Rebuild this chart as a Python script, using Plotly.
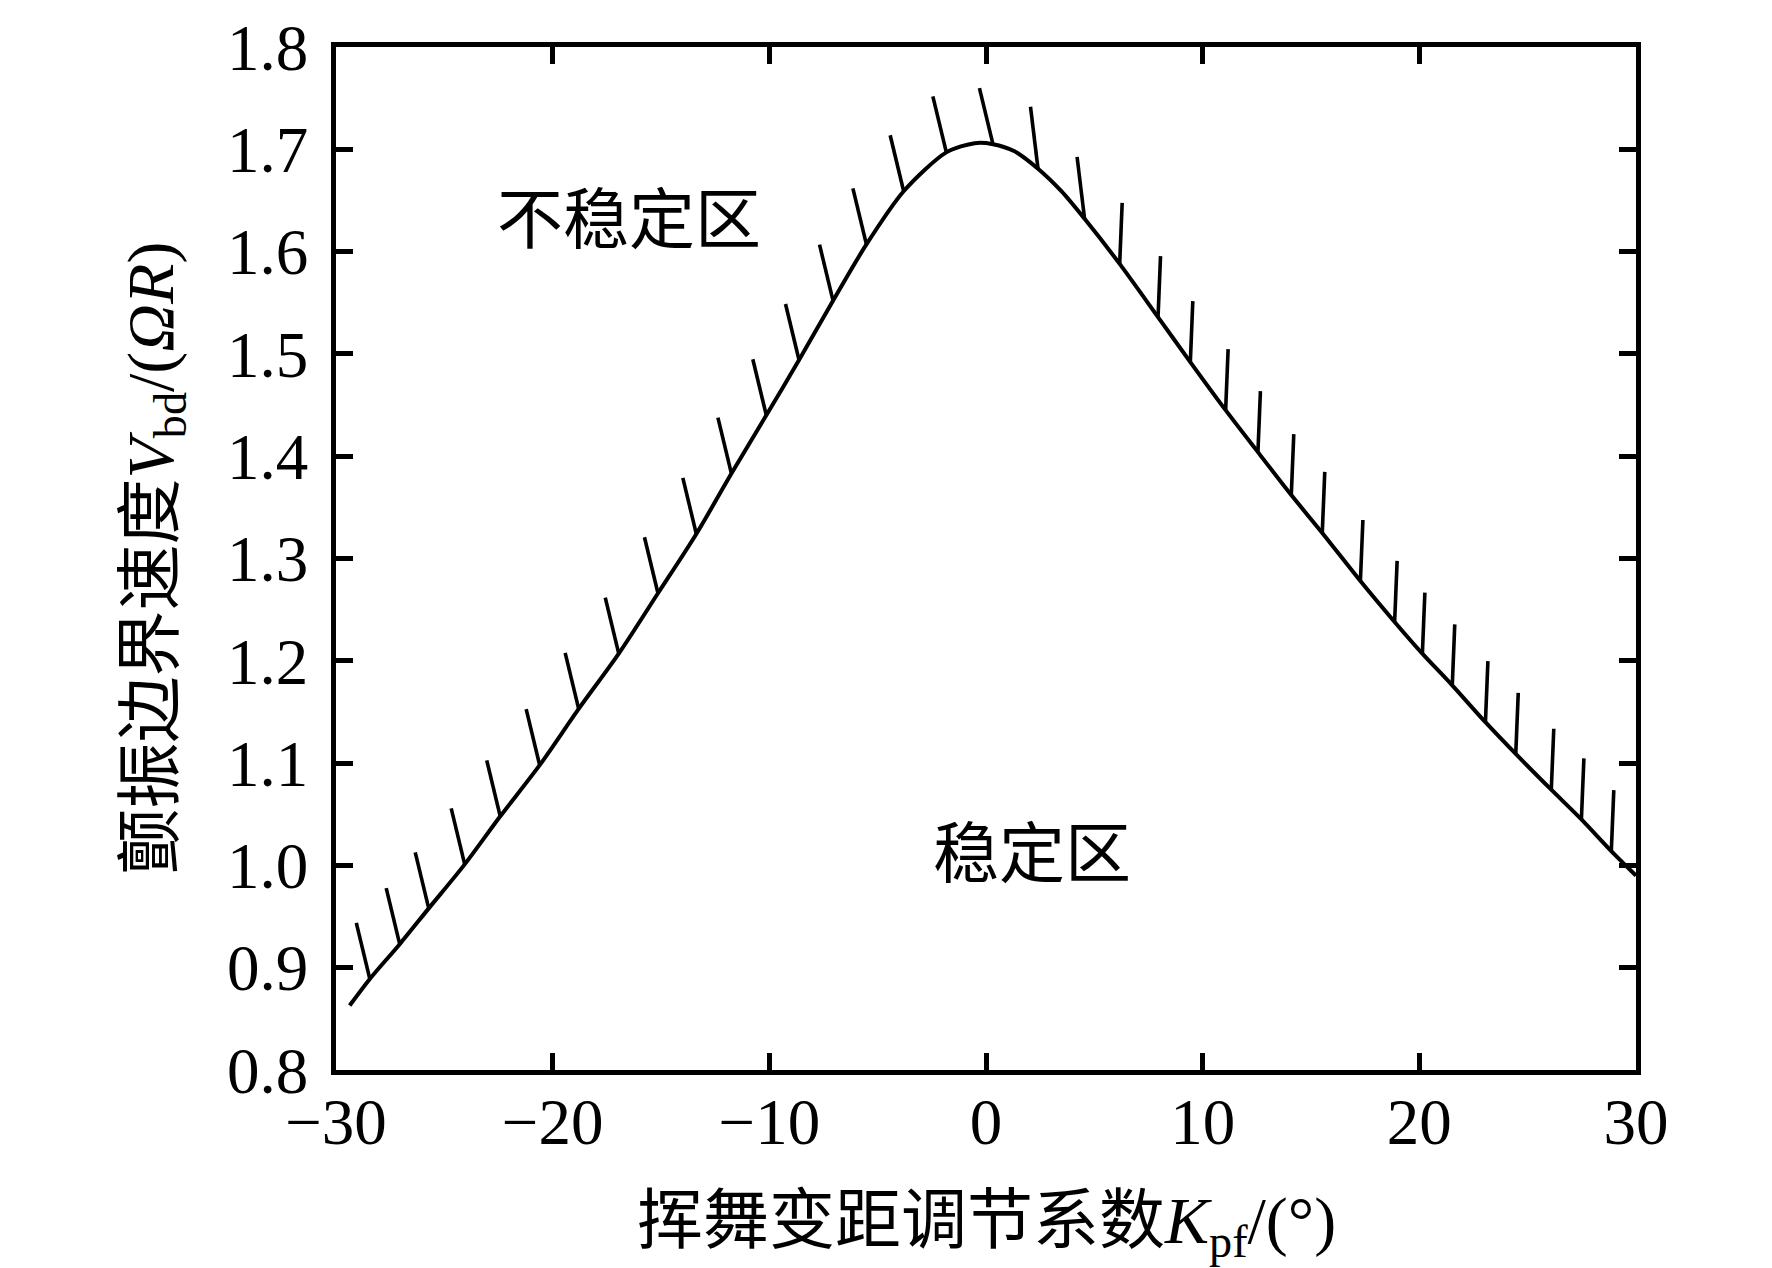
import plotly.graph_objects as go

# 颤振边界曲线 (读图所得)
k_curve = [-29.37, -28.44, -27.06, -25.72, -24.06, -22.42, -20.60, -18.80, -16.95,
           -15.14, -13.37, -11.75, -10.14, -8.63, -7.06, -5.52, -3.80, -1.83, -0.52,
           0.32, 1.32, 2.40, 3.48, 4.55, 6.17, 7.94, 9.43, 11.06, 12.55, 14.09,
           15.52, 17.28, 18.86, 20.14, 21.52, 23.05, 24.45, 26.09, 27.48, 28.86, 30.0]
v_curve = [0.863, 0.889, 0.923, 0.958, 1.001, 1.048, 1.098, 1.153, 1.207,
           1.266, 1.324, 1.383, 1.440, 1.494, 1.552, 1.607, 1.659, 1.697, 1.706,
           1.705, 1.698, 1.681, 1.659, 1.632, 1.588, 1.536, 1.492, 1.445, 1.404, 1.362,
           1.325, 1.278, 1.238, 1.207, 1.176, 1.140, 1.109, 1.074, 1.045, 1.014, 0.990]

# 阴影短线的根部 (位于曲线上)
hatch_k = [-28.44, -27.06, -25.72, -24.06, -22.42, -20.60, -18.80, -16.95, -15.14,
           -13.37, -11.75, -10.14, -8.63, -7.06, -5.52, -3.80, -1.83, 0.32, 2.40, 4.55,
           6.17, 7.94, 9.43, 11.06, 12.55, 14.09, 15.52, 17.28, 18.86, 20.14, 21.52,
           23.05, 24.45, 26.09, 27.48, 28.86]
hatch_v = [0.889, 0.923, 0.958, 1.001, 1.048, 1.098, 1.153, 1.207, 1.266,
           1.324, 1.383, 1.440, 1.494, 1.552, 1.607, 1.659, 1.697, 1.705, 1.681, 1.632,
           1.588, 1.536, 1.492, 1.445, 1.404, 1.362, 1.325, 1.278, 1.238, 1.207, 1.176,
           1.140, 1.109, 1.074, 1.045, 1.014]

x_ticks = [-30, -20, -10, 0, 10, 20, 30]
y_ticks = [0.8, 0.9, 1.0, 1.1, 1.2, 1.3, 1.4, 1.5, 1.6, 1.7, 1.8]

x_range = [-30, 30]
y_range = [0.8, 1.8]

W, H = 1772, 1268
margin = dict(l=328, r=144, t=39, b=206)
plot_w = W - margin["l"] - margin["r"]
plot_h = H - margin["t"] - margin["b"]
# 像素 -> 数据单位
kx = (x_range[1] - x_range[0]) / plot_w
ky = (y_range[1] - y_range[0]) / plot_h

hx, hy = [], []
for k, v in zip(hatch_k, hatch_v):
    if k < 1:
        dx, dy = -13.5, 56
    elif k < 5:
        dx, dy = -7.5, 62
    else:
        dx, dy = 2.5, 61
    hx += [k, k + dx * kx, None]
    hy += [v, v + dy * ky, None]

serif = "Liberation Serif, Noto Sans CJK SC"

fig = go.Figure()
fig.add_trace(go.Scatter(x=k_curve, y=v_curve, mode="lines",
                         line=dict(color="black", width=4, shape="spline", smoothing=0.8),
                         showlegend=False))
fig.add_trace(go.Scatter(x=hx, y=hy, mode="lines",
                         line=dict(color="black", width=3.6),
                         showlegend=False))

axis_style = dict(showline=True, linecolor="black", linewidth=4.5, mirror="ticks",
                  ticks="inside", ticklen=17, tickwidth=4.5, tickcolor="black",
                  showgrid=False, zeroline=False, tickmode="array",
                  ticklabeloverflow="allow", automargin=False,
                  tickfont=dict(family="Liberation Serif", size=65, color="black"))
fig.update_xaxes(range=x_range, tickvals=x_ticks, ticklabelstandoff=-9, **axis_style)
fig.update_yaxes(range=y_range, tickvals=y_ticks, ticktext=[f"{t:.1f}" for t in y_ticks],
                 ticklabelstandoff=10, **axis_style)

fig.add_annotation(text="挥舞变距调节系数<i>K</i><sub>pf</sub>/(°)", xref="paper", yref="paper",
                   x=0.5, y=0, yshift=-155, showarrow=False, yanchor="middle",
                   font=dict(family=serif, size=66, color="black"))
fig.add_annotation(text="颤振边界速度<i>V</i><sub>bd</sub>/(<i>ΩR</i>)", xref="paper", yref="paper",
                   x=0, y=0.5, xshift=-181, showarrow=False, textangle=-90, xanchor="center",
                   font=dict(family=serif, size=66, color="black"))
fig.add_annotation(text="不稳定区", x=-16.5, y=1.637, showarrow=False,
                   font=dict(family="Noto Sans CJK SC", size=66, color="black"))
fig.add_annotation(text="稳定区", x=2.1, y=1.017, showarrow=False,
                   font=dict(family="Noto Sans CJK SC", size=66, color="black"))

fig.update_layout(width=W, height=H, margin=margin, plot_bgcolor="white",
                  paper_bgcolor="white")

fig.write_html("out.html")
